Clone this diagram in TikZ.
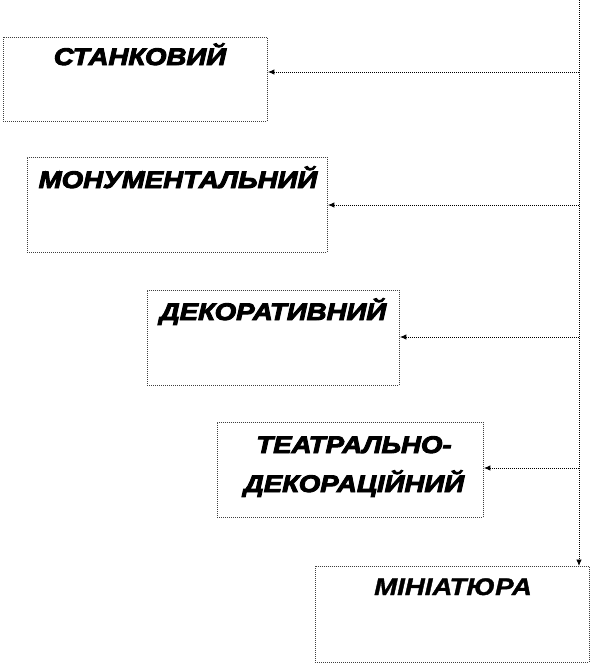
\documentclass[tikz,border=0pt]{standalone}
\usepackage{fontspec}
\setmainfont{Liberation Sans}
\newfontfamily\heavy{Liberation Sans}[UprightFont={* Bold Italic}, FakeStretch=1.15, FakeBold=4]
\newfontfamily\semiheavy{Liberation Sans}[UprightFont={* Bold Italic}, FakeStretch=1.15, FakeBold=1.5]
\usetikzlibrary{arrows.meta}
\tikzset{
  box/.style={draw=black!75, line width=0.9pt, dash pattern=on 1pt off 1pt, fill=white, anchor=north west, inner sep=0pt},
  lbl/.style={font=\heavy\fontsize{24}{39}\selectfont, align=center, anchor=base, inner sep=0pt},
  arr/.style={line width=0.9pt, dash pattern=on 1pt off 1pt, -{Latex[length=6.5pt,width=5.5pt]}}
}
\begin{document}
\begin{tikzpicture}[x=1pt,y=-1pt]
\useasboundingbox (0,0) rectangle (594,665);
\node[box, minimum width=264pt, minimum height=84pt] (b1) at (3,37) {};
\node[box, minimum width=300pt, minimum height=95pt] (b2) at (27,157) {};
\node[box, minimum width=252pt, minimum height=95pt] (b3) at (147,290) {};
\node[box, minimum width=266pt, minimum height=95pt] (b4) at (217,422) {};
\node[box, minimum width=274pt, minimum height=96pt] (b5) at (315,566) {};
\node[lbl] (t1) at (140,65) {СТАНКОВИЙ};
\node[lbl] (t2) at (178,188) {МОНУМЕНТАЛЬНИЙ};
\node[lbl] (t3) at (273,320) {ДЕКОРАТИВНИЙ};
\node[lbl] (t4) at (354,492) {ТЕАТРАЛЬНО-\\ДЕКОРАЦІЙНИЙ};
\node[lbl, font=\semiheavy\fontsize{24}{39}\selectfont] (t5) at (453,595) {МІНІАТЮРА};
\coordinate (top) at (579,0);
\coordinate (v1) at (579,72);
\coordinate (v2) at (579,205);
\coordinate (v3) at (579,337);
\coordinate (v4) at (579,468);
\draw[arr] (top) -- (b5.north -| top);
\draw[arr] (v1) -- (b1.east |- v1);
\draw[arr] (v2) -- (b2.east |- v2);
\draw[arr] (v3) -- (b3.east |- v3);
\draw[arr] (v4) -- (b4.east |- v4);
\end{tikzpicture}
\end{document}
